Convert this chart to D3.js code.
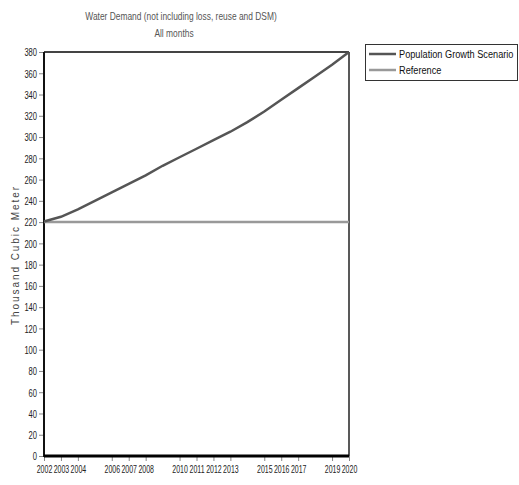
<!DOCTYPE html>
<html><head><meta charset="utf-8">
<script src="https://cdn.jsdelivr.net/npm/d3@7"></script>
<style>
body{margin:0;background:#fff;}
text{font-family:"Liberation Sans",Arial,sans-serif;}
</style></head>
<body><svg id="c" width="519" height="485"></svg>
<script>
const years = [2002,2003,2004,2005,2006,2007,2008,2009,2010,2011,2012,2013,2014,2015,2016,2017,2018,2019,2020];
const populationGrowth = [220.5,225,232,240,248,256,264,273,281,289,297,305,314,324,335,346,357,368,380];
const reference = [220,220,220,220,220,220,220,220,220,220,220,220,220,220,220,220,220,220,220];
const xTickYears = [2002,2003,2004,2006,2007,2008,2010,2011,2012,2013,2015,2016,2017,2019,2020];
const yTicks = [0,20,40,60,80,100,120,140,160,180,200,220,240,260,280,300,320,340,360,380];
const seriesNames = ["Population Growth Scenario","Reference"];

const svg = d3.select("#c");
const L=44, R=349, T=52, B=456;
const x = d3.scaleLinear().domain([2002,2020]).range([L,R]);
const y = d3.scaleLinear().domain([0,380]).range([B,T]);

// condense a text horizontally via scale transform, anchored at (ax, ay)
function condense(sel, sx, ax, ay){
  sel.attr("x",0).attr("y",0)
     .attr("transform",`translate(${ax},${ay}) scale(${sx},1)`);
}

// title
condense(svg.append("text").attr("text-anchor","middle")
  .attr("font-size",10.5).attr("fill","#555").text("Water Demand (not including loss, reuse and DSM)"), 0.8, 181, 20);
condense(svg.append("text").attr("text-anchor","middle")
  .attr("font-size",10.5).attr("fill","#555").text("All months"), 0.8, 174, 37);

// y axis
const ya = svg.append("g").attr("transform",`translate(${L},0)`)
  .call(d3.axisLeft(y).tickValues(yTicks).tickSize(5).tickPadding(2).tickFormat(d3.format("d")));
ya.select(".domain").remove();
ya.selectAll(".tick line").attr("stroke","#888");
ya.selectAll(".tick text").attr("font-size",10.5).attr("fill","#222")
  .each(function(){ const t=d3.select(this); t.attr("dy",null); condense(t, 0.72, -7, 3.8); });

// x axis
const xa = svg.append("g").attr("transform",`translate(0,${B})`)
  .call(d3.axisBottom(x).tickValues(xTickYears).tickSize(5).tickPadding(4).tickFormat(d3.format("d")));
xa.select(".domain").remove();
xa.selectAll(".tick line").attr("stroke","#888");
xa.selectAll(".tick text").attr("font-size",10).attr("fill","#222")
  .each(function(){ const t=d3.select(this); t.attr("dy",null); condense(t, 0.7, 0, 17); });

// y axis title
svg.append("text").attr("transform","translate(19,256) rotate(-90)").attr("text-anchor","middle")
  .attr("font-size",10).attr("fill","#444")
  .attr("textLength",138).attr("lengthAdjust","spacing")
  .text("Thousand Cubic Meter");

// frame
svg.append("line").attr("x1",L).attr("x2",R).attr("y1",y(380)).attr("y2",y(380)).attr("stroke","#444").attr("stroke-width",2);
svg.append("line").attr("x1",R).attr("x2",R).attr("y1",y(380)).attr("y2",B).attr("stroke","#222").attr("stroke-width",1.5);
svg.append("line").attr("x1",L).attr("x2",L).attr("y1",y(380)).attr("y2",B+1).attr("stroke","#111").attr("stroke-width",2);
svg.append("line").attr("x1",L).attr("x2",R).attr("y1",B).attr("y2",B).attr("stroke","#000").attr("stroke-width",3);

const line = d3.line().x((d,i)=>x(years[i])).y(d=>y(d));
svg.append("path").datum(reference).attr("d",line).attr("fill","none").attr("stroke","#999").attr("stroke-width",2.5);
svg.append("path").datum(populationGrowth).attr("d",line).attr("fill","none").attr("stroke","#555").attr("stroke-width",2.5);

// legend
const lg = svg.append("g");
lg.append("rect").attr("x",365.5).attr("y",44.5).attr("width",152).attr("height",36).attr("fill","#fff").attr("stroke","#333").attr("stroke-width",1);
const colors = ["#555","#999"];
seriesNames.forEach((n,i)=>{
  const yy = 54 + i*16;
  lg.append("line").attr("x1",369).attr("x2",396).attr("y1",yy).attr("y2",yy).attr("stroke",colors[i]).attr("stroke-width",2.5);
  condense(lg.append("text").attr("font-size",11.5).attr("fill","#111").text(n), 0.8, 399, yy+4);
});
</script></body></html>
